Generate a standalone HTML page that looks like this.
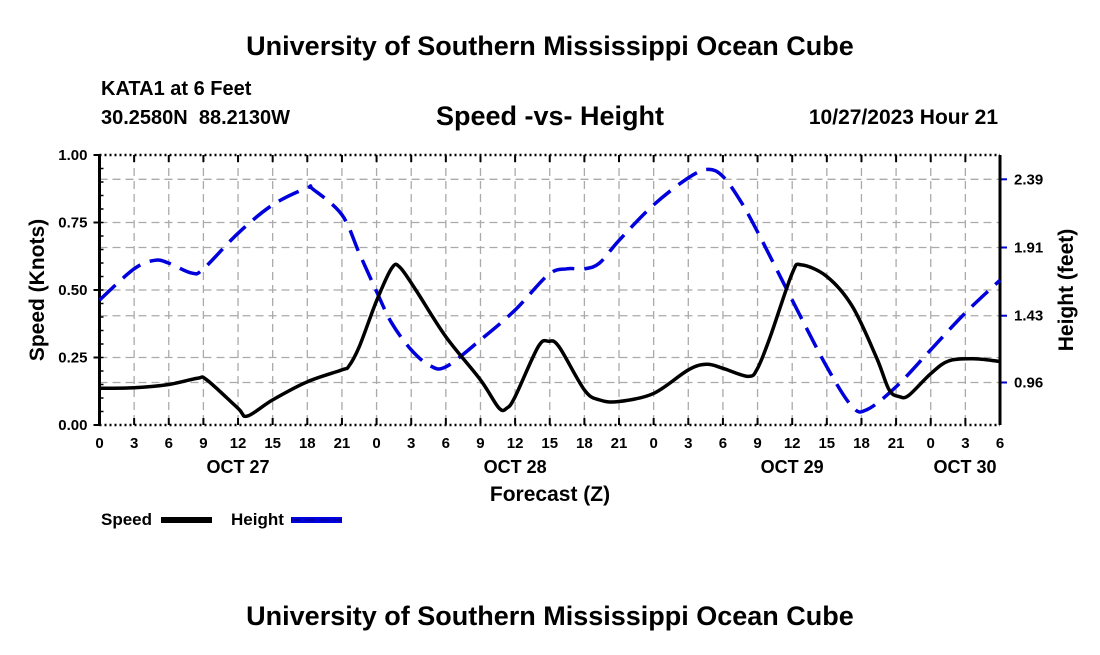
<!DOCTYPE html>
<html><head><meta charset="utf-8"><style>
body{margin:0;background:#fff;width:1100px;height:650px;overflow:hidden;font-family:"Liberation Sans",sans-serif}
svg text{font-family:"Liberation Sans",sans-serif;font-weight:bold;fill:#000;white-space:pre}
</style></head><body>
<svg id="chart" width="1100" height="650" xmlns="http://www.w3.org/2000/svg">
<text x="550" y="55" font-size="27" text-anchor="middle">University of Southern Mississippi Ocean Cube</text>
<text x="101" y="95" font-size="20">KATA1 at 6 Feet</text>
<text x="101" y="124" font-size="20" xml:space="preserve">30.2580N  88.2130W</text>
<text x="550" y="125" font-size="27" text-anchor="middle">Speed -vs- Height</text>
<text x="998" y="124" font-size="21" text-anchor="end">10/27/2023 Hour 21</text>
<text transform="translate(44,290) rotate(-90)" font-size="21" text-anchor="middle">Speed (Knots)</text>
<text transform="translate(1073,290) rotate(-90)" font-size="21" text-anchor="middle">Height (feet)</text>
<text x="550" y="501" font-size="21" text-anchor="middle">Forecast (Z)</text>
<g id="grid"></g><g id="axes"></g><g id="series"></g>
<text x="101" y="525" font-size="17">Speed</text>
<line x1="161" y1="520" x2="212" y2="520" stroke="#000" stroke-width="6"/>
<text x="231" y="525" font-size="17">Height</text>
<line x1="291" y1="520" x2="342" y2="520" stroke="#0000dd" stroke-width="6"/>
<line x1="291" y1="520" x2="342" y2="520" stroke="#000099" stroke-width="1.5" stroke-dasharray="10 4"/>
<text x="550" y="625" font-size="27" text-anchor="middle">University of Southern Mississippi Ocean Cube</text>
</svg>
<script>
const xTickLabels=["0","3","6","9","12","15","18","21","0","3","6","9","12","15","18","21","0","3","6","9","12","15","18","21","0","3","6"];
const dayLabels=["OCT 27","OCT 28","OCT 29","OCT 30"];
const dayHours=[12,36,60,78];
const speedTicks=[0,0.25,0.5,0.75,1.0];
const heightTicks=[0.96,1.43,1.91,2.39];
const speedHours=[0,3,6,8.5,9.3,12,12.8,15,18,21,21.6,22.5,24,25.3,26,27.4,30,33,34.6,35.3,36,38,38.9,39.8,42,43.3,45,48,51,52.6,54,56.2,57,58.1,60,60.8,63,65.2,67.3,68.4,69.3,70.1,72,73.6,75.9,78];
const speedVals=[0.136,0.138,0.150,0.173,0.167,0.062,0.033,0.093,0.160,0.204,0.218,0.29,0.46,0.58,0.585,0.50,0.327,0.167,0.063,0.063,0.105,0.29,0.31,0.29,0.13,0.093,0.087,0.117,0.204,0.225,0.21,0.18,0.21,0.327,0.562,0.593,0.55,0.44,0.25,0.13,0.105,0.11,0.19,0.238,0.245,0.235];
const heightHours=[0,3,4.8,6,8,9,12,15,18,18.5,21,22.5,24,25.3,27,28.6,30,33,36,38.9,40.5,42,43.3,45,48,51,52.7,54,55.5,57,60,63,65.2,66.5,69,72,75,78];
const heightVals=[1.54,1.76,1.82,1.80,1.73,1.76,2.01,2.21,2.33,2.32,2.14,1.87,1.60,1.38,1.19,1.08,1.07,1.26,1.47,1.72,1.76,1.76,1.80,1.96,2.21,2.40,2.46,2.41,2.24,2.02,1.54,1.07,0.79,0.77,0.93,1.19,1.45,1.68];
const L=99.5,R=1000,T=155,B=425,HMAX=78;
const x=h=>L+(R-L)*h/HMAX;
const yS=v=>B-(B-T)*v;
const yH=v=>382.5-(v-0.96)*142.1;
const NS="http://www.w3.org/2000/svg";
function mk(tag,attrs,parent){const e=document.createElementNS(NS,tag);for(const k in attrs)e.setAttribute(k,attrs[k]);parent.appendChild(e);return e;}
const grid=document.getElementById('grid'),axes=document.getElementById('axes'),series=document.getElementById('series');
xTickLabels.forEach((t,i)=>{const h=i*3,px=x(h);
 if(i>0&&i<xTickLabels.length-1){const g=mk('line',{x1:px,y1:T,x2:px,y2:B,stroke:'#aaa','stroke-width':1.3,'stroke-dasharray':'8 5'},grid);
 
 }
 const tk=mk('line',{x1:px,y1:B,x2:px,y2:B-7,stroke:'#000','stroke-width':2},axes);
 
 
 const tt=mk('line',{x1:px,y1:T,x2:px,y2:T+7,stroke:'#000','stroke-width':2},axes);
 
 
 const lb=mk('text',{x:px,y:448,'font-size':15,'text-anchor':'middle'},axes);lb.textContent=t;
 
 });
dayLabels.forEach((d,i)=>{const lb=mk('text',{x:Math.min(x(dayHours[i]),965),y:473,'font-size':18,'text-anchor':'middle'},axes);lb.textContent=d;
 
 });
speedTicks.forEach(v=>{const py=yS(v);
 if(v>0&&v<1){const g=mk('line',{x1:L,y1:py,x2:R,y2:py,stroke:'#aaa','stroke-width':1.3,'stroke-dasharray':'8 5'},grid);
 
 }
 const tk=mk('line',{x1:L-6,y1:py,x2:L,y2:py,stroke:'#000','stroke-width':2},axes);
 
 
 const lb=mk('text',{x:L-12,y:py+5,'font-size':15,'text-anchor':'end'},axes);lb.textContent=v.toFixed(2);
 
 });
for(let v=0.05;v<1;v+=0.05){const py=yS(v);const m=mk('line',{x1:L,y1:py,x2:L+4,y2:py,stroke:'#000','stroke-width':1.5},axes);
 
 }
heightTicks.forEach(v=>{const py=yH(v);
 const g=mk('line',{x1:L,y1:py,x2:R,y2:py,stroke:'#aaa','stroke-width':1.3,'stroke-dasharray':'8 5'},grid);
 
 
 const tk=mk('line',{x1:R,y1:py,x2:R+7,y2:py,stroke:'#0000cc','stroke-width':2},axes);
 
 
 const lb=mk('text',{x:1014,y:py+5,'font-size':15},axes);lb.textContent=v.toFixed(2);
 
 });
[[L,T,R,T,'top-border'],[L,B,R,B,'bottom-border']].forEach(a=>{const e=mk('line',{x1:a[0],y1:a[1],x2:a[2],y2:a[3],stroke:'#000','stroke-width':2.5,'stroke-dasharray':'2 3'},axes);
 
 });
[[L,'left-axis'],[R,'right-axis']].forEach(a=>{const e=mk('line',{x1:a[0],y1:T,x2:a[0],y2:B,stroke:'#000','stroke-width':3},axes);
 
 });
function smooth(hs,vs,fy){const p=hs.map((h,i)=>[x(h),fy(vs[i])]);let d='M'+p[0][0]+','+p[0][1];
 for(let i=0;i<p.length-1;i++){const p0=p[i-1]||p[i],p1=p[i],p2=p[i+1],p3=p[i+2]||p2;
 const c1=[p1[0]+(p2[0]-p0[0])/6,p1[1]+(p2[1]-p0[1])/6],c2=[p2[0]-(p3[0]-p1[0])/6,p2[1]-(p3[1]-p1[1])/6];
 d+=` C${c1[0]},${c1[1]} ${c2[0]},${c2[1]} ${p2[0]},${p2[1]}`;}return d;}
const hl=mk('path',{d:smooth(heightHours,heightVals,yH),fill:'none',stroke:'#0000dd','stroke-width':3.5,'stroke-dasharray':'22 10'},series);


const sl=mk('path',{d:smooth(speedHours,speedVals,yS),fill:'none',stroke:'#000','stroke-width':3.5,'stroke-linejoin':'round'},series);


</script>
</body></html>
